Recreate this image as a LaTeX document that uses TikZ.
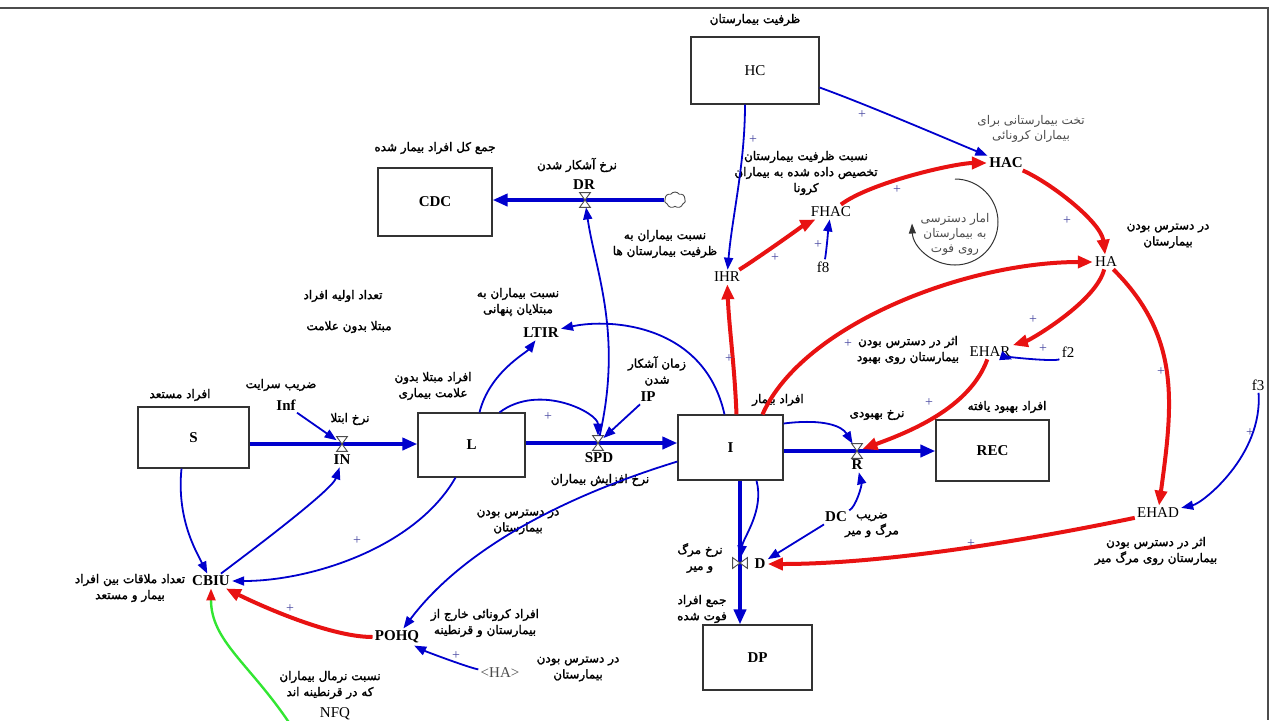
\documentclass[tikz,border=0pt]{standalone}
\usepackage{fontspec}
\setmainfont{Liberation Serif}
\newfontfamily\fa[Script=Arabic]{DejaVu Sans}
\newfontfamily\fab[Script=Arabic,FakeBold=1.8]{DejaVu Sans}
\usetikzlibrary{arrows.meta,shapes.symbols}
\TeXXeTstate=1
\newcommand{\rtl}[1]{\beginR #1\endR}
\definecolor{vblue}{RGB}{0,0,205}
\definecolor{vred}{RGB}{232,18,18}
\definecolor{vgreen}{RGB}{50,230,50}
\definecolor{pcol}{RGB}{70,70,160}
\begin{document}
\begin{tikzpicture}[x=0.5pt,y=-0.5pt,
  stock/.style={draw=black!80, line width=0.6pt, fill=white, inner sep=0, font=\bfseries\fontsize{7.5}{8}\selectfont},
  vname/.style={font=\fontsize{7.5}{8}\selectfont, inner sep=1pt},
  vbold/.style={font=\bfseries\fontsize{7.5}{8}\selectfont, inner sep=1pt},
  fl/.style={font=\fab\fontsize{6}{8}\selectfont, align=center, inner sep=0},
  flg/.style={font=\fa\fontsize{6}{7.5}\selectfont, align=center, inner sep=0, text=black!70},
  pl/.style={font=\fontsize{7}{7}\selectfont, text=pcol, inner sep=0},
  blu/.style={draw=vblue, line width=0.9pt, -{Triangle[length=6pt,width=4.5pt]}},
  rd/.style={draw=vred, line width=2pt, -{Triangle[length=7.5pt,width=6pt]}},
  grn/.style={draw=vgreen, line width=1.2pt, -{Triangle[length=6pt,width=4.5pt,color=vred]}},
  pipe/.style={draw=vblue, line width=2pt, -{Triangle[length=7.5pt,width=6pt]}},
  valve/.style={rectangle, inner sep=0, minimum width=5pt, minimum height=7pt},
  valveh/.style={rectangle, inner sep=0, minimum width=7pt, minimum height=5pt},
  vdraw/.style={draw=black!70, fill=white, line width=0.45pt},
]
\useasboundingbox (0,0) rectangle (1276,720);
\draw[black!70, line width=0.6pt] (0,8) -- (1268,8) -- (1268,720);

% stocks
\node[stock, minimum width=64pt, minimum height=33.5pt, font=\fontsize{7.5}{8}\selectfont] (HC) at (755,70.5) {HC};
\node[stock, minimum width=57pt, minimum height=34pt] (CDC) at (435,202) {CDC};
\node[stock, minimum width=55.5pt, minimum height=30.5pt] (S) at (193.5,437.5) {S};
\node[stock, minimum width=53.5pt, minimum height=32pt] (L) at (471.5,445) {L};
\node[stock, minimum width=52.5pt, minimum height=32.5pt] (I) at (730.5,447.5) {I};
\node[stock, minimum width=56.5pt, minimum height=30.5pt] (REC) at (992.5,450.5) {REC};
\node[stock, minimum width=54.5pt, minimum height=32.5pt] (DP) at (757.5,657.5) {DP};

% valves
\node[valve] (INv) at (342,444) {};
\node[valve] (SPDv) at (598,443) {};
\node[valve] (Rv) at (857,451) {};
\node[valve] (DRv) at (585,200) {};
\node[valveh] (Dv) at (740,563) {};
\node[cloud, draw=black!70, cloud puffs=7, cloud puff arc=110, aspect=1.3, minimum width=10.5pt, minimum height=8pt, inner sep=0, line width=0.45pt] (cl) at (675,200) {};

% pipes
\draw[pipe] (S.east |- INv) -- (L.west |- INv);
\draw[pipe] (L.east |- SPDv) -- (I.west |- SPDv);
\draw[pipe] (I.east |- Rv) -- (REC.west |- Rv);
\draw[pipe] (cl.west) -- (CDC.east |- cl.west);
\draw[pipe] (I.south -| Dv) -- (DP.north -| Dv);

\foreach \v in {INv,SPDv,Rv,DRv}{
  \draw[vdraw] (\v.north west) -- (\v.south east) -- (\v.south west) -- (\v.north east) -- cycle;}
\draw[vdraw] (Dv.north west) -- (Dv.south east) -- (Dv.north east) -- (Dv.south west) -- cycle;

% valve labels
\node[vbold] (INl) at (342,460) {IN};
\node[vbold] (SPDl) at (599,458) {SPD};
\node[vbold] (Rl) at (857,465) {R};
\node[vbold] (DRl) at (584,185) {DR};
\node[vbold] (Dl) at (760,564) {D};

% auxiliaries
\node[vbold] (HAC) at (1006,163) {HAC};
\node[vname] (FHAC) at (831,212) {FHAC};
\node[vname] (f8) at (823,267) {f8};
\node[vname] (IHR) at (727,277) {IHR};
\node[vname] (HA) at (1106,262) {HA};
\node[vname] (EHAR) at (990,352) {EHAR};
\node[vname] (f2) at (1068,352) {f2};
\node[vname] (f3) at (1258,385) {f3};
\node[vname] (EHAD) at (1158,513) {EHAD};
\node[vbold] (LTIR) at (541,333) {LTIR};
\node[vbold] (Inf) at (286,405) {Inf};
\node[vbold] (IP) at (648,397) {IP};
\node[vbold] (DC) at (836,517) {DC};
\node[vbold] (CBIU) at (211,581) {CBIU};
\node[vbold] (POHQ) at (397,637) {POHQ};
\node[vname, text=black!70] (HA2) at (500,673) {\textless HA\textgreater};
\node[vname] (NFQ) at (335,714) {NFQ};
\coordinate (gstart) at (290,724);

% Persian labels
\node[fl] (t1) at (755,20) {\rtl{ظرفیت بیمارستان}};
\node[fl] (t2) at (435,148) {\rtl{جمع کل افراد بیمار شده}};
\node[fl] (t3) at (577,165) {\rtl{نرخ آشکار شدن}};
\node[flg] (t4) at (1031,129) {\rtl{تخت بیمارستانی برای}\\\rtl{بیماران کرونائی}};
\node[fl] (t5) at (806,173) {\rtl{نسبت ظرفیت بیمارستان}\\\rtl{تخصیص داده شده به بیماران}\\\rtl{کرونا}};
\node[flg] (t6) at (955,234) {\rtl{امار دسترسی}\\\rtl{به بیمارستان}\\\rtl{روی فوت}};
\node[fl] (t7) at (665,244) {\rtl{نسبت بیماران به}\\\rtl{ظرفیت بیمارستان ها}};
\node[fl] (t8) at (1168,236) {\rtl{در دسترس بودن}\\\rtl{بیمارستان}};
\node[fl] (t9) at (343,296) {\rtl{تعداد اولیه افراد}};
\node[fl] (t10) at (349,327) {\rtl{مبتلا بدون علامت}};
\node[fl] (t11) at (518,302) {\rtl{نسبت بیماران به}\\\rtl{مبتلایان پنهانی}};
\node[fl] (t12) at (908,350) {\rtl{اثر در دسترس بودن}\\\rtl{بیمارستان روی بهبود}};
\node[fl] (t13) at (281,385) {\rtl{ضریب سرایت}};
\node[fl] (t14) at (180,395) {\rtl{افراد مستعد}};
\node[fl] (t15) at (350,419) {\rtl{نرخ ابتلا}};
\node[fl] (t16) at (433,386) {\rtl{افراد مبتلا بدون}\\\rtl{علامت بیماری}};
\node[fl] (t17) at (657,371) {\rtl{زمان آشکار}\\\rtl{شدن}};
\node[fl] (t18) at (778,400) {\rtl{افراد بیمار}};
\node[fl] (t19) at (877,415) {\rtl{نرخ بهبودی}};
\node[fl] (t20) at (1007,407) {\rtl{افراد بهبود یافته}};
\node[fl] (t21) at (600,480) {\rtl{نرخ افزایش بیماران}};
\node[fl] (t22) at (518,522) {\rtl{در دسترس بودن}\\\rtl{بیمارستان}};
\node[fl] (t23) at (872,525) {\rtl{ضریب}\\\rtl{مرگ و میر}};
\node[fl] (t24) at (700,558) {\rtl{نرخ مرگ}\\\rtl{و میر}};
\node[fl] (t25) at (1156,551) {\rtl{اثر در دسترس بودن}\\\rtl{بیمارستان روی مرگ میر}};
\node[fl] (t26) at (702,609) {\rtl{جمع افراد}\\\rtl{فوت شده}};
\node[fl] (t27) at (130,588) {\rtl{تعداد ملاقات بین افراد}\\\rtl{بیمار و مستعد}};
\node[fl] (t28) at (485,623) {\rtl{افراد کرونائی خارج از}\\\rtl{بیمارستان و قرنطینه}};
\node[fl] (t29) at (578,669) {\rtl{در دسترس بودن}\\\rtl{بیمارستان}};
\node[fl] (t30) at (330,685) {\rtl{نسبت نرمال بیماران}\\\rtl{که در قرنطینه اند}};

% connectors
\draw[blu] ([yshift=-8.5pt]HC.east) .. controls +(50,18) and +(-45,-18) .. (HAC);
\draw[blu] ([xshift=-5pt]HC.south) .. controls +(0,60) and +(5,-60) .. (IHR);
\draw[rd] (IHR) .. controls +(25,-15) and +(-25,12) .. (FHAC);
\draw[rd] (FHAC) .. controls +(40,-30) and +(-50,0) .. (HAC);
\draw[blu] (f8) .. controls +(3,-12) and +(-2,12) .. (FHAC);
\draw[rd] (HAC) .. controls +(45,20) and +(-5,-40) .. (HA);
\draw[rd] (HA) .. controls +(-10,40) and +(40,-12) .. (EHAR);
\draw[blu] (f2) .. controls +(-12,10) and +(15,5) .. (EHAR);
\draw[rd] (EHAR) .. controls +(-20,55) and +(55,-20) .. (Rv);
\draw[rd] (HA) .. controls +(75,75) and +(15,-110) .. (EHAD);
\draw[blu] (f3) .. controls +(5,70) and +(45,-10) .. (EHAD);
\draw[rd] (EHAD) .. controls +(-120,25) and +(130,0) .. (Dl);
\draw[rd] ([xshift=16pt]I.north) .. controls +(40,-90) and +(-140,0) .. (HA);
\draw[rd] ([xshift=3pt]I.north) .. controls +(-2,-50) and +(2,50) .. (IHR);
\draw[blu] ([xshift=-3pt]I.north) .. controls +(-20,-90) and +(70,-15) .. (LTIR);
\draw[blu] ([xshift=4pt]L.north) .. controls +(10,-40) and +(-15,20) .. (LTIR);
\draw[blu] ([xshift=14pt]L.north) .. controls +(40,-30) and +(0,-30) .. (SPDv);
\draw[blu] (IP) -- (SPDv);
\draw[blu] (SPDv) .. controls +(25,-110) and +(10,70) .. (DRv);
\draw[blu] (Inf) -- (INv);
\draw[blu] ([xshift=-6pt]S.south) .. controls +(-5,50) and +(-15,-30) .. (CBIU);
\draw[blu] (CBIU) .. controls +(40,-30) and +(-10,30) .. (INl);
\draw[blu] ([xshift=-8pt]L.south) .. controls +(-40,70) and +(100,0) .. (CBIU);
\draw[blu] ([yshift=-7pt]I.west) .. controls +(-130,40) and +(60,-80) .. (POHQ);
\draw[blu] (HA2) .. controls +(-30,-5) and +(30,15) .. (POHQ);
\draw[rd] (POHQ) .. controls +(-70,0) and +(40,20) .. (CBIU);
\draw[grn] (gstart) .. controls +(-40,-60) and +(0,60) .. (CBIU);
\draw[blu] ([yshift=12pt]I.east) .. controls +(40,-5) and +(-15,-25) .. (Rv);
\draw[blu] (DC) .. controls +(20,-10) and +(5,20) .. (Rl);
\draw[blu] (DC) -- (Dl);
\draw[blu] ([xshift=13pt]I.south) .. controls +(8,30) and +(3,-25) .. (Dv);

% loop
\draw[black!80, line width=0.5pt, -{Triangle[length=5pt,width=3.5pt]}] (955,179) arc[start angle=-90, end angle=178, radius=43];

% polarity signs
\node[pl] (p1) at (862,115) {+};
\node[pl] (p2) at (753,140) {+};
\node[pl] (p3) at (775,258) {+};
\node[pl] (p4) at (897,190) {+};
\node[pl] (p5) at (818,245) {+};
\node[pl] (p6) at (1067,221) {+};
\node[pl] (p7) at (1033,320) {+};
\node[pl] (p8) at (1043,349) {+};
\node[pl] (p9) at (929,403) {+};
\node[pl] (p10) at (1161,372) {+};
\node[pl] (p11) at (1250,433) {+};
\node[pl] (p12) at (971,544) {+};
\node[pl] (p13) at (848,344) {+};
\node[pl] (p14) at (729,359) {+};
\node[pl] (p15) at (548,417) {+};
\node[pl] (p16) at (357,541) {+};
\node[pl] (p17) at (456,656) {+};
\node[pl] (p18) at (290,609) {+};
\end{tikzpicture}
\end{document}
